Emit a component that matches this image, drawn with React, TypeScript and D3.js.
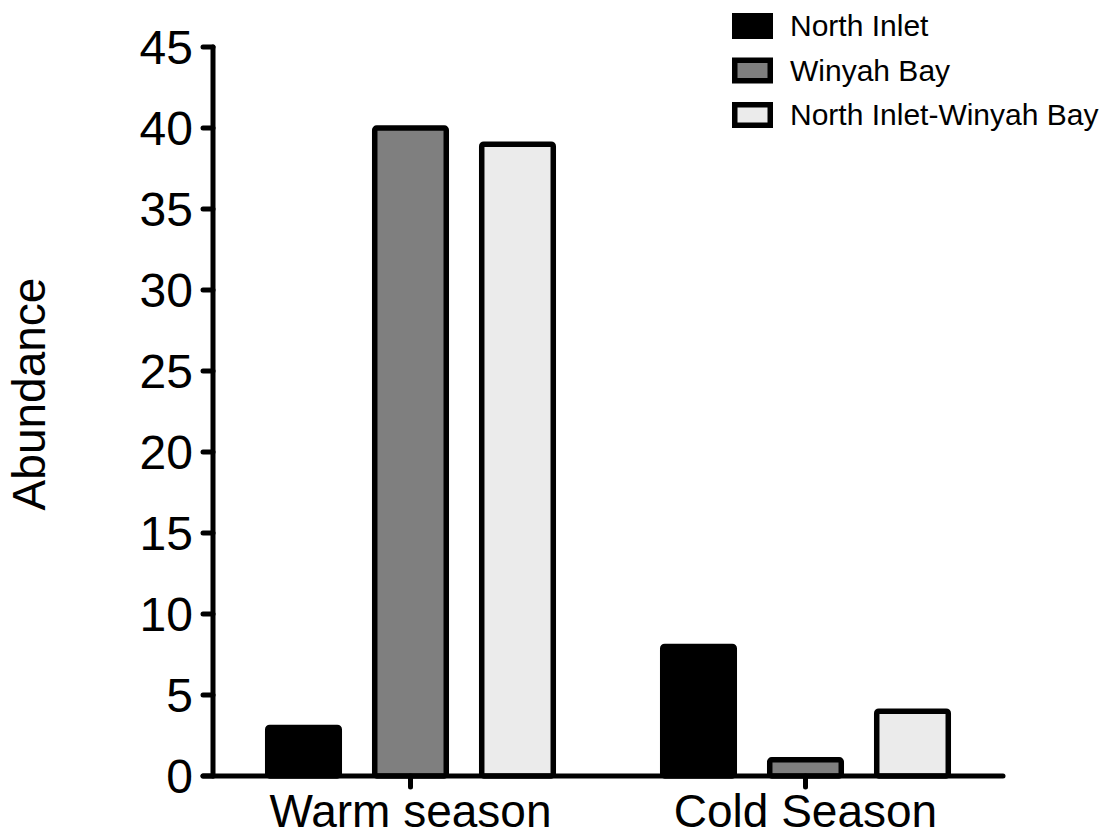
import React from "react";
import * as d3 from "d3";

const groups = ["Warm season", "Cold Season"];
const series = ["North Inlet", "Winyah Bay", "North Inlet-Winyah Bay"];
const northInlet = [3, 8];
const winyahBay = [40, 1];
const niwb = [39, 4];
const colors = ["#000000", "#7f7f7f", "#ebebeb"];
const yTicks = [0, 5, 10, 15, 20, 25, 30, 35, 40, 45];

const W = 1111;
const H = 838;
const FONT = "'Liberation Sans', Arial, Helvetica, sans-serif";

export default function App() {
  const values = [northInlet, winyahBay, niwb];
  const axisX = 213;
  const y = d3.scaleLinear().domain([0, 45]).range([776, 47]);
  const x0 = d3.scalePoint<string>().domain(groups).range([axisX, 1003]).padding(0.5);
  const x1 = d3
    .scaleBand<string>()
    .domain(series)
    .range([-160.5, 160.5])
    .paddingInner(0.28)
    .paddingOuter(0.14);
  const sw = 5.5;
  const bw = x1.bandwidth();

  return (
    <svg
      width={W}
      height={H}
      style={{ position: "absolute", left: 0, top: 0, background: "#fff" }}
      fontFamily={FONT}
    >
      {/* bars */}
      {groups.map((g, gi) =>
        series.map((s, si) => {
          const v = values[si][gi];
          const left = (x0(g) as number) + (x1(s) as number);
          return (
            <rect
              key={g + s}
              x={left + sw / 2}
              y={y(v)}
              width={bw - sw}
              height={y(0) - y(v)}
              fill={colors[si]}
              stroke="#000"
              strokeWidth={sw}
              rx={2}
              strokeLinejoin="round"
            />
          );
        })
      )}
      {/* y axis */}
      <line x1={axisX} x2={axisX} y1={y(45)} y2={y(0)} stroke="#000" strokeWidth={5} strokeLinecap="round" />
      {yTicks.map((t) => (
        <g key={t}>
          <line x1={axisX - 10} x2={axisX} y1={y(t)} y2={y(t)} stroke="#000" strokeWidth={5} strokeLinecap="round" />
          <text x={193} y={y(t) + 17} textAnchor="end" fontSize={48} fill="#000">
            {t}
          </text>
        </g>
      ))}
      {/* x axis */}
      <line x1={axisX - 10} x2={1003} y1={y(0)} y2={y(0)} stroke="#000" strokeWidth={5} strokeLinecap="round" />
      {groups.map((g) => (
        <g key={g}>
          <line x1={x0(g)} x2={x0(g)} y1={y(0)} y2={y(0) + 11} stroke="#000" strokeWidth={5} strokeLinecap="round" />
          <text x={x0(g)} y={827} textAnchor="middle" fontSize={46} fill="#000">
            {g}
          </text>
        </g>
      ))}
      {/* y label */}
      <text
        transform={`translate(45,394) rotate(-90)`}
        textAnchor="middle"
        fontSize={46}
        fill="#000"
      >
        Abundance
      </text>
      {/* legend */}
      {series.map((s, si) => {
        const ly = 13 + si * 44.5;
        return (
          <g key={s}>
            <rect
              x={732 + sw / 2}
              y={ly + sw / 2}
              width={41 - sw}
              height={26 - sw}
              fill={colors[si]}
              stroke="#000"
              strokeWidth={sw}
            />
            <text x={790} y={ly + 23} fontSize={30} fill="#000">
              {s}
            </text>
          </g>
        );
      })}
    </svg>
  );
}
